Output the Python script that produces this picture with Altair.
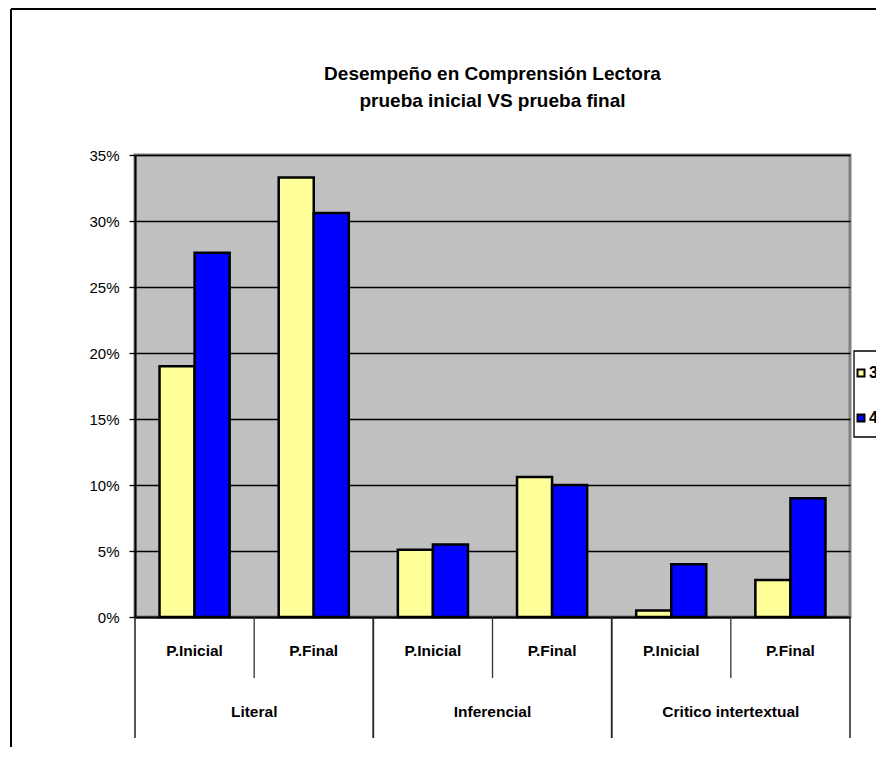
import altair as alt
import pandas as pd

# ---- data ----
groups = ["Literal", "Literal", "Inferencial", "Inferencial",
          "Critico intertextual", "Critico intertextual"]
tests = ["P.Inicial", "P.Final", "P.Inicial", "P.Final", "P.Inicial", "P.Final"]
serie_3 = [19.0, 33.3, 5.1, 10.6, 0.5, 2.8]
serie_4 = [27.6, 30.6, 5.5, 10.0, 4.0, 9.0]
series_names = ["3", "4"]
y_ticks = [0, 0.05, 0.10, 0.15, 0.20, 0.25, 0.30, 0.35]
title_lines = ["Desempeño en Comprensión Lectora", "prueba inicial VS prueba final"]

keys = [f"{g} | {t}" for g, t in zip(groups, tests)]

rows = []
for k, g, t, a, b in zip(keys, groups, tests, serie_3, serie_4):
    rows.append({"key": k, "grupo": g, "prueba": t, "serie": "3", "valor": a / 100})
    rows.append({"key": k, "grupo": g, "prueba": t, "serie": "4", "valor": b / 100})
bars_df = pd.DataFrame(rows)
cat_df = pd.DataFrame({"key": keys, "grupo": groups, "prueba": tests})

grp_first, grp_last, grp_names, grp_inner = [], [], [], []
for i, (k, g) in enumerate(zip(keys, groups)):
    if i == 0 or groups[i - 1] != g:
        grp_first.append(k)
        grp_names.append(g)
    else:
        grp_inner.append(k)
    if i == len(keys) - 1 or groups[i + 1] != g:
        grp_last.append(k)
grp_df = pd.DataFrame({"key": grp_first, "grupo": grp_names})
first_df = pd.DataFrame({"key": grp_first})
last_df = pd.DataFrame({"key": grp_last})
inner_df = pd.DataFrame({"key": grp_inner})
title_df = pd.DataFrame({"line": title_lines, "n": [0, 1]})
dummy = pd.DataFrame({"d": [0]})

FONT = "Liberation Sans"
W, H = 715, 462

xscale = alt.Scale(domain=keys, paddingInner=0, paddingOuter=0)

bars = alt.Chart(bars_df).mark_bar(stroke="black", strokeWidth=2.5).encode(
    x=alt.X("key:N", scale=xscale, sort=keys,
            axis=alt.Axis(labels=False, ticks=False, title=None, grid=False,
                          domainColor="black", domainWidth=2)),
    xOffset=alt.XOffset("serie:N", sort=series_names,
                        scale=alt.Scale(paddingOuter=0.7, paddingInner=0)),
    y=alt.Y("valor:Q", scale=alt.Scale(domain=[0, 0.35], nice=False),
            axis=alt.Axis(values=y_ticks, format=".0%", title=None, grid=True,
                          gridColor="black", gridWidth=1.3, tickColor="black",
                          tickSize=6, tickWidth=1.3, domainColor="black",
                          domainWidth=2, labelFontSize=15, labelFont=FONT,
                          labelColor="black", labelPadding=10)),
    color=alt.Color("serie:N", sort=series_names,
                    scale=alt.Scale(domain=series_names, range=["#FFFF99", "#0000FF"]),
                    legend=alt.Legend(orient="none", legendX=718, legendY=210,
                                      title=None, padding=0, symbolType="square",
                                      symbolSize=49, symbolStrokeColor="black",
                                      symbolStrokeWidth=2, labelFontSize=16,
                                      labelFontWeight="bold", labelFont=FONT,
                                      labelColor="black", rowPadding=29,
                                      labelOffset=0)),
)

title_marks = alt.Chart(title_df).mark_text(
    fontSize=19, fontWeight="bold", font=FONT, color="black", baseline="middle"
).encode(
    x=alt.value(W / 2),
    y=alt.Y("n:Q", scale=alt.Scale(domain=[0, 1], range=[-81, -54]), axis=None),
    text="line:N",
)

sub_labels = alt.Chart(cat_df).mark_text(
    fontSize=15.5, fontWeight="bold", font=FONT, color="black", baseline="middle"
).encode(
    x=alt.X("key:N", scale=xscale, sort=keys),
    y=alt.value(H + 34),
    text="prueba:N",
)

grp_labels = alt.Chart(grp_df).mark_text(
    fontSize=15.5, fontWeight="bold", font=FONT, color="black", baseline="middle"
).encode(
    x=alt.X("key:N", scale=xscale, sort=keys, bandPosition=1),
    y=alt.value(H + 95),
    text="grupo:N",
)

short_sep = alt.Chart(inner_df).mark_rule(color="#333333", strokeWidth=1.3).encode(
    x=alt.X("key:N", scale=xscale, sort=keys, bandPosition=0),
    y=alt.value(H), y2=alt.value(H + 61),
)
long_sep_l = alt.Chart(first_df).mark_rule(color="#222222", strokeWidth=1.5).encode(
    x=alt.X("key:N", scale=xscale, sort=keys, bandPosition=0),
    y=alt.value(H), y2=alt.value(H + 121),
)
long_sep_r = alt.Chart(last_df).mark_rule(color="#222222", strokeWidth=1.5).encode(
    x=alt.X("key:N", scale=xscale, sort=keys, bandPosition=1),
    y=alt.value(H), y2=alt.value(H + 121),
)

frame_top = alt.Chart(dummy).mark_rule(color="black", strokeWidth=2).encode(
    x=alt.value(-124), x2=alt.value(760), y=alt.value(-146))
frame_left = alt.Chart(dummy).mark_rule(color="black", strokeWidth=2).encode(
    x=alt.value(-124), y=alt.value(-146), y2=alt.value(620))

legend_box = alt.Chart(dummy).mark_rect(fill="white", stroke="black", strokeWidth=1.3).encode(
    x=alt.value(719), x2=alt.value(770), y=alt.value(196), y2=alt.value(282))

chart = alt.layer(
    frame_top, frame_left, legend_box, bars, short_sep, long_sep_l, long_sep_r,
    sub_labels, grp_labels, title_marks,
).resolve_scale(y="independent").properties(
    width=W, height=H,
    autosize=alt.AutoSizeParams(type="none"),
    padding={"left": 127, "top": 147, "right": 26, "bottom": 130},
).configure_view(
    fill="#C0C0C0", stroke="#808080", strokeWidth=3
)

chart.save("out.html", embed_options={"renderer": "svg", "actions": False})
